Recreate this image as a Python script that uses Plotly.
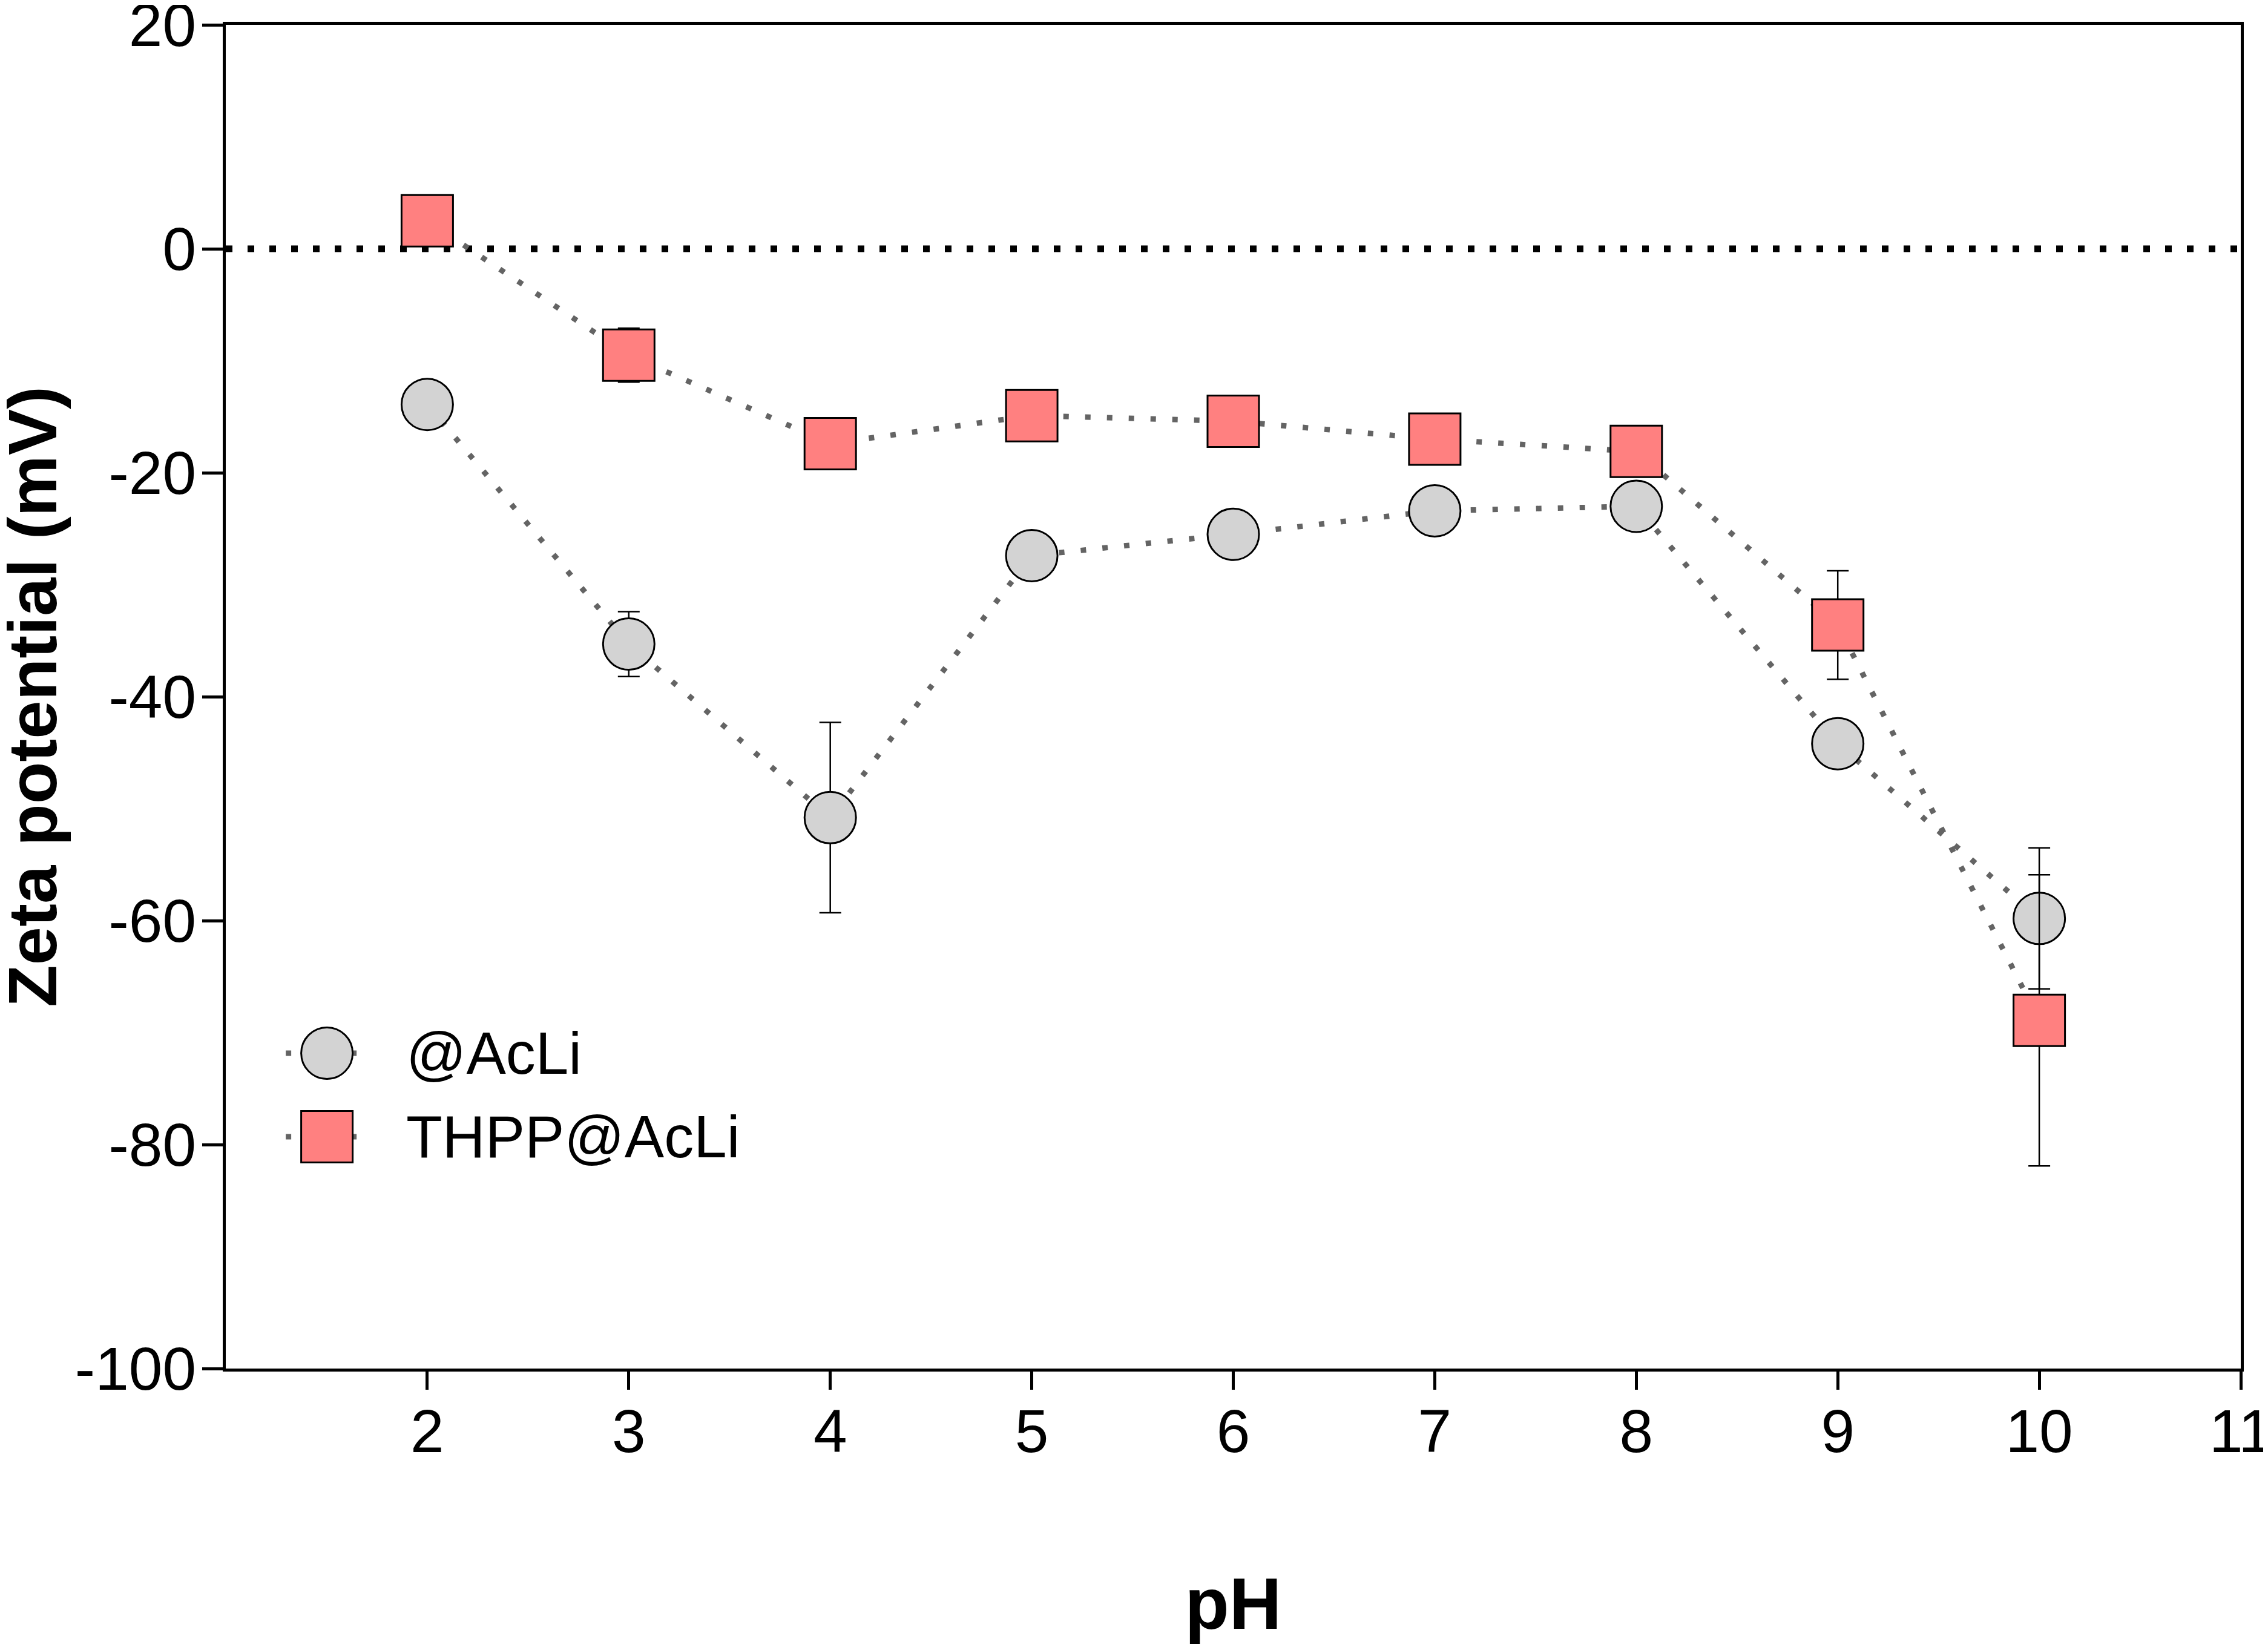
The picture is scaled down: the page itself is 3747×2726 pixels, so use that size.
import plotly.graph_objects as go

# pH values and zeta potential (mV)
ph = [2, 3, 4, 5, 6, 7, 8, 9, 10]
acli = [-13.9, -35.3, -50.8, -27.4, -25.5, -23.4, -23.0, -44.2, -59.8]
acli_err = [0, 2.9, 8.5, 0, 0, 0, 0, 0, 6.3]
thpp = [2.5, -9.5, -17.4, -14.9, -15.4, -17.0, -18.1, -33.6, -68.9]
thpp_err = [0, 2.4, 0, 0, 0, 0, 0, 4.85, 13.0]

series_names = ["@AcLi", "THPP@AcLi"]
x_ticks = [2, 3, 4, 5, 6, 7, 8, 9, 10, 11]
y_ticks = [-100, -80, -60, -40, -20, 0, 20]
y_ticktext = ["-100", "-80", "-60", "-40", "-20", "0", "20"]

FONT = "Arial, Liberation Sans, sans-serif"
LINE_GREY = "#646464"
CIRCLE_FILL = "#d3d3d3"
SQUARE_FILL = "#ff8080"
MARKER_SIZE = 85

fig = go.Figure()

fig.add_trace(go.Scatter(
    x=ph, y=acli, name=series_names[0],
    mode="lines+markers",
    line=dict(color=LINE_GREY, width=9, dash="9px,27px"),
    marker=dict(symbol="circle", size=MARKER_SIZE, color=CIRCLE_FILL,
                line=dict(color="black", width=3)),
    error_y=dict(type="data", array=acli_err, color="black", thickness=2.5, width=18),
    showlegend=False,
))

fig.add_trace(go.Scatter(
    x=ph, y=thpp, name=series_names[1],
    mode="lines+markers",
    line=dict(color=LINE_GREY, width=9, dash="9px,27px"),
    marker=dict(symbol="square", size=MARKER_SIZE, color=SQUARE_FILL,
                line=dict(color="black", width=3)),
    error_y=dict(type="data", array=thpp_err, color="black", thickness=2.5, width=18),
    showlegend=False,
))

# dotted zero reference line
shapes = [dict(type="line", xref="paper", yref="y", x0=0, x1=1, y0=0, y1=0,
               line=dict(color="black", width=11, dash="11px,25px"), layer="below")]

# hand-made legend (plotly caps legend marker size)
legend_y = [0.2347, 0.1725]
legend_x = 0.0502
half = MARKER_SIZE / 2
for ly in legend_y:
    shapes.append(dict(type="line", xref="paper", yref="paper", xsizemode="pixel",
                       xanchor=legend_x, x0=-68, x1=60, y0=ly, y1=ly,
                       line=dict(color=LINE_GREY, width=9, dash="9px,27px")))
shapes.append(dict(type="circle", xref="paper", yref="paper",
                   xsizemode="pixel", ysizemode="pixel",
                   xanchor=legend_x, yanchor=legend_y[0],
                   x0=-half, x1=half, y0=-half, y1=half,
                   fillcolor=CIRCLE_FILL, line=dict(color="black", width=3)))
shapes.append(dict(type="rect", xref="paper", yref="paper",
                   xsizemode="pixel", ysizemode="pixel",
                   xanchor=legend_x, yanchor=legend_y[1],
                   x0=-half, x1=half, y0=-half, y1=half,
                   fillcolor=SQUARE_FILL, line=dict(color="black", width=3)))

annotations = [
    dict(text=name, xref="paper", yref="paper", x=0.089, y=ly,
         xanchor="left", yanchor="middle", showarrow=False,
         font=dict(family=FONT, size=98, color="black"))
    for name, ly in zip(series_names, legend_y)
]
# y-axis title as an annotation so it can sit closer to the page edge
annotations.append(dict(
    text="<b>Zeta potential (mV)</b>", xref="paper", yref="paper",
    x=-0.0961, y=0.5, xanchor="center", yanchor="middle", textangle=-90,
    showarrow=False, font=dict(family=FONT, size=114, color="black"),
))

fig.update_layout(
    width=3739, height=2718,
    margin=dict(l=365, r=45, t=33, b=465),
    paper_bgcolor="white", plot_bgcolor="white",
    shapes=shapes, annotations=annotations,
    font=dict(family=FONT, color="black"),
    xaxis=dict(
        range=[1, 11], tickvals=x_ticks,
        showline=True, linecolor="black", linewidth=5, mirror=True,
        ticks="outside", ticklen=30, tickwidth=5, tickcolor="black",
        showgrid=False, zeroline=False,
        tickfont=dict(family=FONT, size=100),
        ticklabelstandoff=-17, ticklabeloverflow="allow",
        title=dict(text="<b>pH</b>", font=dict(family=FONT, size=120), standoff=189),
        automargin=False,
    ),
    yaxis=dict(
        range=[-100, 20], tickvals=y_ticks, ticktext=y_ticktext,
        showline=True, linecolor="black", linewidth=5, mirror=True,
        ticks="outside", ticklen=34, tickwidth=5, tickcolor="black",
        showgrid=False, zeroline=False,
        tickfont=dict(family=FONT, size=100),
        ticklabelstandoff=-10, ticklabeloverflow="allow",
        automargin=False,
    ),
)

fig.write_html("out.html")
